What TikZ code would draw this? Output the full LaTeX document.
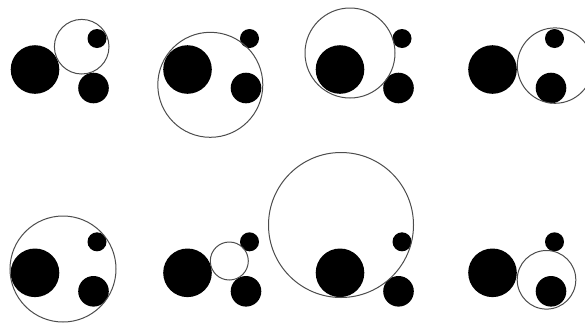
\documentclass[tikz,border=0pt]{standalone}
\usepackage{tikz}

\tikzset{
  disk/.style={fill=black},
  ring/.style={draw=black!70, line width=1pt}
}

\begin{document}
\begin{tikzpicture}[x=1pt, y=-1pt]
  \useasboundingbox (0,0) rectangle (585,322);
  \clip (0,0) rectangle (585,322);
  % three fixed disks in every panel
  \foreach \bx/\by in {35/69.5, 187.5/69.5, 340/69.5, 492.5/69.5,
                       35/272.8, 187.5/272.8, 340/272.8, 492.5/272.8} {
    \coordinate (big) at (\bx,\by);
    \fill[disk] (big) circle (24.3);
    \fill[disk] ([shift={(62,-31)}]big) circle (9.5);
    \fill[disk] ([shift={(58.5,18.5)}]big) circle (15.3);
  }
  % tangent circles
  \draw[ring] (81.7,46.7) circle (27.3);
  \draw[ring] (210.3,84.8) circle (52.5);
  \draw[ring] (350,53) circle (45);
  \draw[ring] (555,65.6) circle (37.7);
  \draw[ring] (63,269) circle (53);
  \draw[ring] (229.3,261) circle (19);
  \draw[ring] (341,225) circle (72.5);
  \draw[ring] (546.5,279.8) circle (29.3);
\end{tikzpicture}
\end{document}
